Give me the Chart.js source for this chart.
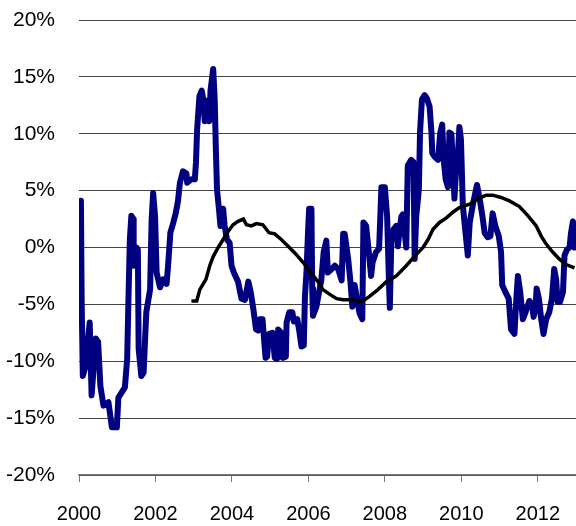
<!DOCTYPE html>
<html>
<head>
<meta charset="utf-8">
<script src="https://cdn.jsdelivr.net/npm/chart.js@4"></script>
<style>
  html, body { margin: 0; padding: 0; background: #fff; }
  #c { display: block; }
</style>
</head>
<body>
<canvas id="c" width="576" height="526"></canvas>
<script>
// Blue series (dates as decimal years, values in %)
const blueYears = [
  2000.05,2000.07,2000.10,2000.16,2000.28,2000.33,2000.44,2000.50,2000.56,2000.64,
  2000.77,2000.86,2000.99,2001.03,2001.20,2001.26,2001.29,2001.33,2001.37,2001.42,
  2001.43,2001.50,2001.54,2001.56,2001.63,2001.69,2001.76,2001.86,2001.90,2001.94,
  2001.99,2002.03,2002.12,2002.20,2002.29,2002.33,2002.39,2002.46,2002.53,2002.59,
  2002.64,2002.72,2002.81,2002.83,2002.94,2003.03,2003.06,2003.09,2003.15,2003.21,
  2003.25,2003.29,2003.35,2003.41,2003.44,2003.51,2003.55,2003.58,2003.61,2003.66,
  2003.70,2003.77,2003.81,2003.87,2003.94,2003.99,2004.05,2004.16,2004.25,2004.34,
  2004.43,2004.49,2004.56,2004.63,2004.69,2004.73,2004.80,2004.83,2004.88,2004.92,
  2004.97,2005.06,2005.12,2005.18,2005.21,2005.29,2005.33,2005.41,2005.43,2005.50,
  2005.58,2005.62,2005.71,2005.76,2005.82,2005.88,2005.91,2005.95,2005.99,2006.02,
  2006.08,2006.10,2006.12,2006.21,2006.28,2006.34,2006.40,2006.47,2006.51,2006.61,
  2006.69,2006.78,2006.87,2006.91,2006.95,2007.04,2007.10,2007.15,2007.21,2007.27,
  2007.34,2007.41,2007.44,2007.51,2007.58,2007.64,2007.68,2007.77,2007.85,2007.91,
  2008.00,2008.06,2008.11,2008.13,2008.17,2008.23,2008.30,2008.34,2008.39,2008.43,
  2008.47,2008.52,2008.56,2008.60,2008.69,2008.75,2008.78,2008.82,2008.89,2008.92,
  2008.97,2009.04,2009.10,2009.17,2009.22,2009.24,2009.30,2009.39,2009.45,2009.50,
  2009.54,2009.59,2009.65,2009.69,2009.74,2009.78,2009.82,2009.86,2009.91,2009.95,
  2009.99,2010.04,2010.11,2010.17,2010.22,2010.31,2010.41,2010.48,2010.55,2010.61,
  2010.69,2010.76,2010.82,2010.89,2010.98,2011.04,2011.07,2011.15,2011.24,2011.30,
  2011.39,2011.44,2011.48,2011.54,2011.61,2011.68,2011.78,2011.85,2011.89,2011.94,
  2011.97,2012.03,2012.09,2012.15,2012.22,2012.30,2012.37,2012.43,2012.48,2012.52,
  2012.58,2012.66,2012.70,2012.76,2012.83,2012.87,2012.92,2012.96
];
const blueValues = [
  4.1,-4.8,-11.3,-10.6,-6.6,-13.0,-8.0,-8.3,-12.2,-13.9,
  -13.6,-15.8,-15.8,-13.2,-12.3,-9.8,-5.1,0.7,2.8,2.5,
  -1.6,0.0,-0.2,-8.9,-11.3,-11.0,-5.7,-3.7,2.5,4.8,
  2.7,-2.2,-3.5,-2.8,-3.2,-1.6,1.3,2.1,3.0,4.1,
  5.7,6.7,6.5,5.7,6.0,6.0,7.5,10.4,13.3,13.8,
  13.0,11.1,12.9,11.1,13.8,15.7,13.0,8.6,5.1,3.4,
  1.9,3.4,1.9,0.7,0.4,-1.6,-2.2,-3.0,-4.5,-4.6,
  -3.0,-3.9,-5.4,-7.2,-7.3,-6.3,-6.3,-7.6,-9.7,-9.6,
  -7.6,-7.5,-9.7,-9.8,-7.2,-7.5,-9.7,-9.6,-6.6,-5.7,
  -5.7,-6.5,-6.3,-7.3,-8.7,-8.6,-4.3,-2.2,1.3,3.4,
  3.4,-3.6,-6.0,-5.2,-3.9,-2.8,-0.4,0.6,-2.2,-1.9,
  -1.6,-1.9,-2.9,1.2,1.2,-1.0,-3.0,-5.2,-3.3,-4.5,
  -5.8,-6.3,2.2,1.9,-0.4,-2.5,-1.3,-0.4,-0.1,5.3,
  5.3,2.7,-3.3,-5.3,0.7,1.6,1.9,0.1,1.6,2.7,
  2.9,1.3,0.0,7.2,7.7,7.5,-1.0,2.7,5.1,10.1,
  13.0,13.4,13.1,12.4,10.1,8.3,8.0,7.7,10.1,10.8,
  7.7,6.0,5.3,10.1,10.0,7.5,4.3,6.6,8.0,10.6,
  9.5,3.7,1.3,-0.7,2.2,3.9,5.5,4.3,2.8,1.3,
  0.9,1.0,3.0,1.9,1.0,-0.4,-3.3,-3.9,-4.5,-7.2,
  -7.6,-4.5,-2.5,-3.9,-6.3,-5.7,-4.7,-5.0,-6.1,-5.4,
  -3.6,-4.5,-6.3,-7.6,-6.3,-5.7,-4.5,-1.9,-2.8,-4.8,
  -4.8,-3.9,-0.7,-0.2,0.0,1.3,2.3,0.0
];

// Black series (smooth curve from 2003)
const blackYears = [
  2002.94,2003.08,2003.16,2003.32,2003.42,2003.51,2003.64,2003.77,2003.90,2004.03,
  2004.16,2004.30,2004.38,2004.51,2004.64,2004.81,2004.97,2005.12,2005.29,2005.47,
  2005.65,2005.86,2006.08,2006.25,2006.38,2006.55,2006.74,2006.91,2007.17,2007.38,
  2007.60,2007.82,2008.04,2008.30,2008.56,2008.77,2009.00,2009.13,2009.26,2009.43,
  2009.61,2009.78,2009.95,2010.22,2010.44,2010.65,2010.82,2011.04,2011.26,2011.52,
  2011.74,2011.96,2012.09,2012.22,2012.39,2012.56,2012.74,2012.96
];
const blackValues = [
  -4.7,-4.7,-3.7,-2.8,-1.6,-0.8,0.0,0.7,1.4,2.0,
  2.3,2.5,2.0,1.9,2.1,2.0,1.3,1.2,0.7,0.1,
  -0.5,-1.3,-2.3,-3.0,-3.7,-4.1,-4.5,-4.6,-4.6,-4.8,
  -4.3,-3.7,-3.0,-2.5,-1.6,-0.8,0.0,0.7,1.6,2.2,
  2.6,3.1,3.5,3.8,4.3,4.6,4.6,4.4,4.1,3.6,
  2.8,1.9,1.0,0.3,-0.4,-1.0,-1.5,-1.8
];

const xTickYears = [2000, 2002, 2004, 2006, 2008, 2010, 2012];
const yTickValues = [-20, -15, -10, -5, 0, 5, 10, 15, 20];

const toPoints = (xs, ys) => xs.map((x, i) => ({ x: x, y: ys[i] }));

const FONT = "'Liberation Sans', Arial, sans-serif";

new Chart(document.getElementById('c'), {
  type: 'line',
  data: {
    datasets: [
      {
        data: toPoints(blackYears, blackValues),
        borderColor: '#000000',
        borderWidth: 3.5,
        pointRadius: 0,
        tension: 0,
        order: 1
      },
      {
        data: toPoints(blueYears, blueValues),
        borderColor: '#000080',
        borderWidth: 6,
        pointRadius: 0,
        tension: 0,
        borderJoinStyle: 'round',
        borderCapStyle: 'round',
        order: 2
      }
    ]
  },
  options: {
    responsive: false,
    animation: false,
    events: [],
    layout: { padding: { top: 20, right: 0, left: 0, bottom: 0 } },
    plugins: { legend: { display: false }, tooltip: { enabled: false } },
    scales: {
      x: {
        type: 'linear',
        min: 2000,
        max: 2013,
        afterBuildTicks: (s) => { s.ticks = xTickYears.map(v => ({ value: v })); },
        afterFit: (s) => { s.height = 51; s.paddingLeft = 0; s.paddingRight = 0; },
        ticks: {
          color: '#000',
          font: { family: FONT, size: 20 },
          padding: 20,
          maxRotation: 0,
          autoSkip: false,
          callback: (v) => String(v)
        },
        grid: { drawOnChartArea: false, drawTicks: true, tickLength: 7, color: '#777', lineWidth: 1 },
        border: { display: true, color: '#777', width: 1.5 }
      },
      y: {
        min: -20,
        max: 20,
        afterBuildTicks: (s) => { s.ticks = yTickValues.map(v => ({ value: v })); },
        afterFit: (s) => { s.width = 79; s.paddingTop = 0; s.paddingBottom = 0; },
        ticks: {
          color: '#000',
          font: { family: FONT, size: 21 },
          padding: 24,
          callback: (v) => v + '%'
        },
        grid: { drawTicks: false, color: '#444', lineWidth: 1 },
        border: { display: false }
      }
    }
  }
});
</script>
</body>
</html>
